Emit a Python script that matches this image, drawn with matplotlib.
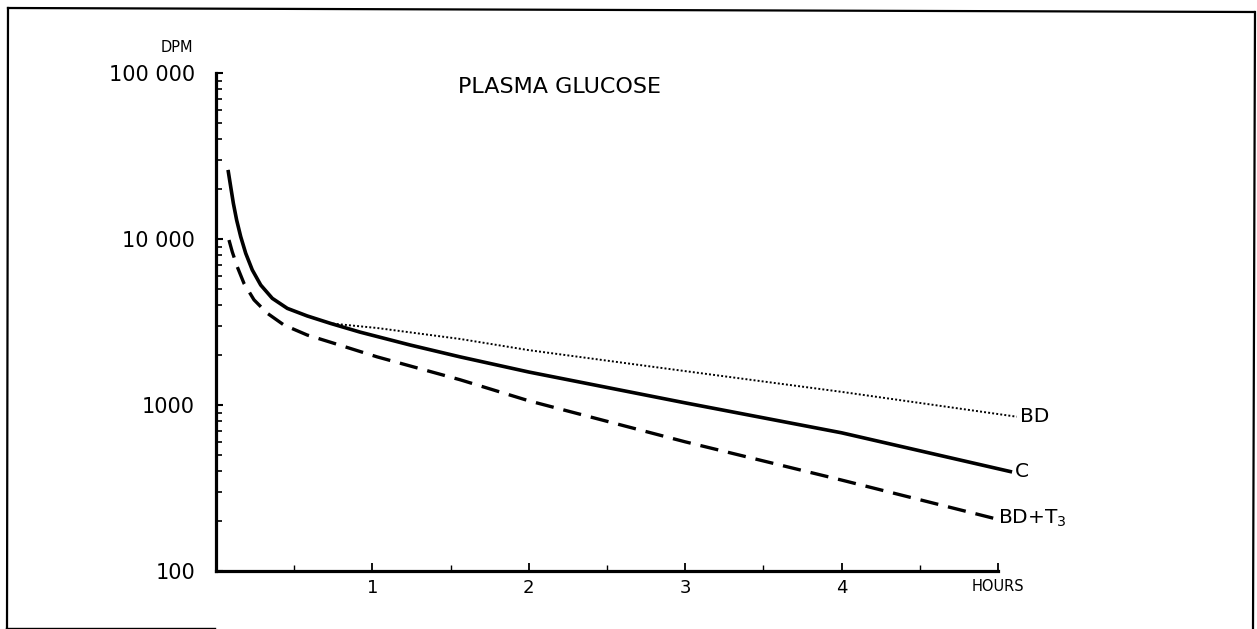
import matplotlib
matplotlib.use('Agg')
import matplotlib.pyplot as plt
from matplotlib.lines import Line2D
from matplotlib.ticker import FixedLocator, LogLocator, NullFormatter

plt.rcParams['font.family'] = ['DejaVu Sans']

# ── data ────────────────────────────────────────────────────────────────────
c_hours = [0.077, 0.094, 0.111, 0.132, 0.158, 0.19, 0.232, 0.286, 0.36, 0.456,
           0.583, 0.733, 0.92, 1.24, 1.56, 2.0, 3.0, 4.0, 5.09]
c_dpm = [26060, 20650, 16400, 13000, 10330, 8200, 6510, 5280, 4390, 3820,
         3440, 3100, 2750, 2300, 1950, 1580, 1030, 680, 395]

bd_hours = [0.077, 0.094, 0.111, 0.132, 0.158, 0.19, 0.232, 0.286, 0.36, 0.456,
            0.583, 0.733, 1.03, 1.56, 2.0, 3.0, 4.0, 5.12]
bd_dpm = [26060, 20650, 16400, 13000, 10330, 8200, 6510, 5280, 4390, 3820,
          3440, 3100, 2910, 2500, 2140, 1600, 1200, 850]

bdt3_hours = [0.083, 0.104, 0.136, 0.179, 0.243, 0.328, 0.435, 0.583, 0.75,
              1.03, 1.56, 2.0, 3.0, 4.0, 4.97]
bdt3_dpm = [9860, 8370, 6800, 5400, 4300, 3570, 3030, 2640, 2360,
            1950, 1420, 1060, 600, 353, 208]

y_ticks = [100, 1000, 10000, 100000]
y_tick_labels = ['100', '1000', '10 000', '100 000']
x_ticks = [1, 2, 3, 4, 5]
x_tick_labels = ['1', '2', '3', '4', 'HOURS']

# ── figure & axes ───────────────────────────────────────────────────────────
W, H = 1257, 629
fig = plt.figure(figsize=(W / 100, H / 100), dpi=100)
ax = fig.add_axes([216 / W, 1 - 571 / H, (998 - 216) / W, (571 - 73) / H])

ax.plot(bd_hours, bd_dpm, color='black', lw=1.4, linestyle=(0, (1, 1.1)),
        clip_on=False)
ax.plot(c_hours, c_dpm, color='black', lw=2.6, solid_capstyle='butt',
        solid_joinstyle='round', clip_on=False)
ax.plot(bdt3_hours, bdt3_dpm, color='black', lw=2.4, linestyle=(0, (5.5, 3)),
        clip_on=False)

ax.set_yscale('log')
ax.set_ylim(100, 100000)
ax.set_xlim(0, 5)

ax.yaxis.set_major_locator(FixedLocator(y_ticks))
ax.set_yticklabels(y_tick_labels)
ax.yaxis.set_minor_locator(LogLocator(base=10, subs=range(2, 10)))
ax.yaxis.set_minor_formatter(NullFormatter())

ax.xaxis.set_major_locator(FixedLocator(x_ticks))
ax.set_xticklabels(x_tick_labels)
ax.xaxis.set_minor_locator(FixedLocator([0.5, 1.5, 2.5, 3.5, 4.5]))

for side in ['top', 'right']:
    ax.spines[side].set_visible(False)
for side in ['left', 'bottom']:
    ax.spines[side].set_linewidth(2.3)

ax.tick_params(axis='y', which='major', direction='in', length=5, width=1.5,
               labelsize=15, pad=15)
ax.tick_params(axis='y', which='minor', direction='in', length=4, width=1.2)
ax.tick_params(axis='x', which='major', direction='in', length=6, width=1.3,
               labelsize=13, pad=6)
ax.tick_params(axis='x', which='minor', direction='in', length=4, width=1.0)
ax.get_xticklabels()[-1].set_fontsize(10.5)

# ── text ────────────────────────────────────────────────────────────────────
fig.text(177 / W, 1 - 48 / H, 'DPM', fontsize=10.5, ha='center', va='center')
fig.text(458 / W, 1 - 87 / H, 'PLASMA GLUCOSE', fontsize=16, ha='left', va='center')

ax.text(bd_hours[-1] + 0.02, bd_dpm[-1], 'BD', fontsize=14.5, ha='left', va='center')
ax.text(c_hours[-1] + 0.02, c_dpm[-1], 'C', fontsize=14.5, ha='left', va='center')
ax.text(bdt3_hours[-1] + 0.03, bdt3_dpm[-1], 'BD+T$_3$', fontsize=14.5,
        ha='left', va='center')

# ── page frame ──────────────────────────────────────────────────────────────
def frame_line(x0, y0, x1, y1, lw=1.6):
    fig.add_artist(Line2D([x0 / W, x1 / W], [1 - y0 / H, 1 - y1 / H],
                          color='black', lw=lw, transform=fig.transFigure))

frame_line(8, 8, 1254, 12)
frame_line(8, 8, 7, 628)
frame_line(1255, 12, 1253, 629)
frame_line(6, 628, 215, 628, lw=1.0)

fig.savefig('out.png', dpi=100)
